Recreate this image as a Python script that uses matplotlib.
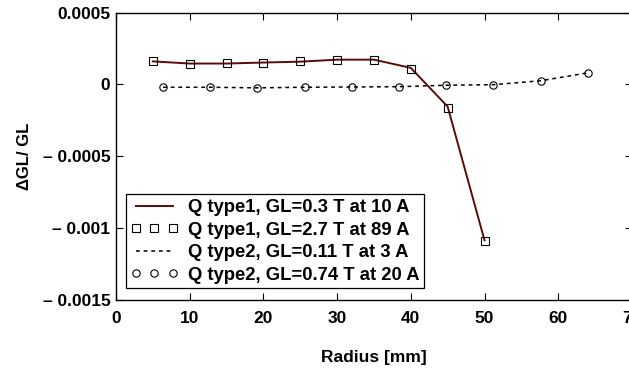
import numpy as np
import matplotlib
matplotlib.use("Agg")
import matplotlib.pyplot as plt

plt.rcParams['font.family'] = ['Liberation Sans', 'DejaVu Sans']
plt.rcParams['font.weight'] = 'bold'

# Q type1 (squares at 2.7 T, solid line at 0.3 T)
r1 = [5, 10, 15, 20, 25, 30, 35, 40, 45, 50]
gl1_low = [1.60e-4, 1.45e-4, 1.45e-4, 1.52e-4, 1.58e-4, 1.72e-4, 1.72e-4, 1.15e-4, -1.55e-4, -1.085e-3]
gl1_high = [1.62e-4, 1.41e-4, 1.46e-4, 1.50e-4, 1.62e-4, 1.71e-4, 1.67e-4, 1.09e-4, -1.63e-4, -1.093e-3]

# Q type2 (circles at 0.74 T, dotted line at 0.11 T)
r2 = [6.4, 12.8, 19.2, 25.6, 32.0, 38.4, 44.8, 51.2, 57.6, 64.0]
gl2_low = [-2.0e-5, -2.0e-5, -2.4e-5, -2.0e-5, -1.8e-5, -1.6e-5, -6e-6, -2e-6, 2.5e-5, 8.0e-5]
gl2_high = [-2.1e-5, -2.1e-5, -2.6e-5, -2.1e-5, -1.9e-5, -1.7e-5, -7e-6, -3e-6, 2.5e-5, 8.1e-5]

labels = ["Q type1, GL=0.3 T at 10 A", "Q type1, GL=2.7 T at 89 A",
          "Q type2, GL=0.11 T at 3 A", "Q type2, GL=0.74 T at 20 A"]

yticks = [0.0005, 0, -0.0005, -0.001, -0.0015]
yticklabels = ["0.0005", "0", "\u2013 0.0005", "\u2013 0.001", "\u2013 0.0015"]
xticks = [0, 10, 20, 30, 40, 50, 60, 70]

fig = plt.figure(figsize=(6.29, 3.68), dpi=100)
ax = fig.add_axes([0.1843, 0.1848, 0.8204, 0.7812])

ax.plot(r1, gl1_low, color="#5c0a0a", lw=1.4, label=labels[0])
ax.plot(r1, gl1_high, ls="none", marker="s", ms=6.3, mfc="none", mec="black", mew=0.8, label=labels[1])
ax.plot(r2, gl2_low, color="black", ls=(0, (2.5, 2.5)), lw=1.1, label=labels[2])
ax.plot(r2, gl2_high, ls="none", marker="o", ms=5.3, mfc="none", mec="black", mew=0.8, label=labels[3])

ax.set_xlim(0, 70)
ax.set_ylim(-0.0015, 0.0005)
ax.set_xticks(xticks)
ax.set_yticks(yticks)
ax.set_yticklabels(yticklabels)
ax.tick_params(direction="in", length=5, width=0.8, top=True, right=True, labelsize=12.5)
ax.tick_params(axis="x", pad=8)
ax.tick_params(axis="y", pad=4)
for lab in ax.get_xticklabels() + ax.get_yticklabels():
    lab.set_fontweight("bold")
for s in ax.spines.values():
    s.set_linewidth(1.0)

ax.set_xlabel("Radius [mm]", fontsize=12.5, fontweight="bold", labelpad=17)
ax.set_ylabel("\u0394GL/ GL", fontsize=12, fontweight="bold", labelpad=8)

leg = ax.legend(loc="lower left", bbox_to_anchor=(0.012, 0.028), numpoints=3,
                handlelength=2.6, handletextpad=0.5, borderpad=0.25, labelspacing=0.3,
                borderaxespad=0.2, fancybox=False, edgecolor="black", framealpha=1,
                prop={"size": 13.3, "weight": "bold"})
leg.get_frame().set_linewidth(0.9)

fig.savefig("out.png", dpi=100)
